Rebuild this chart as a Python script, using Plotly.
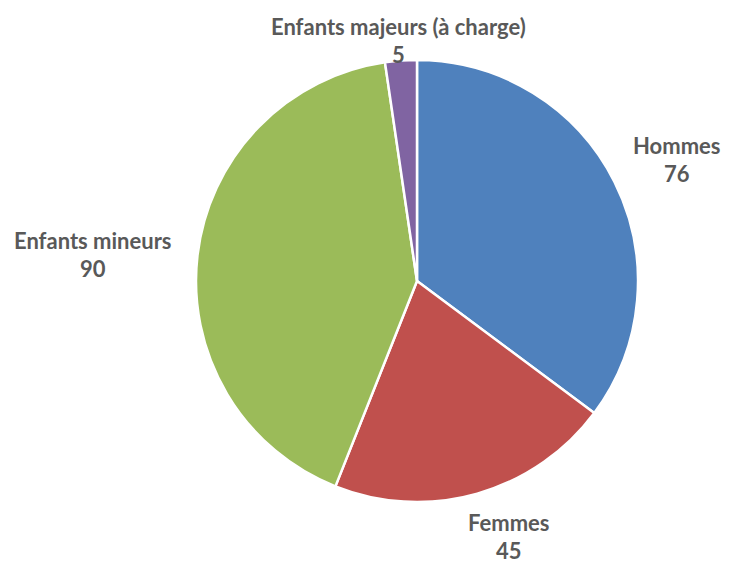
import math
import plotly.graph_objects as go

categories = ["Hommes", "Femmes", "Enfants mineurs", "Enfants majeurs (à charge)"]
values = [76, 45, 90, 5]
colors = ["#4F81BD", "#C0504D", "#9BBB59", "#8064A2"]
label_dist = [289, 271, 326, 239]   # px from pie centre to label centre (style)
label_nudge_x = [2, 18, 0, -1]      # small horizontal nudges (style)
label_nudge_down = [8, -5, 11, -2]  # small vertical nudges, px downward (style)

W, H = 729, 562
OFF = 8  # page body margin in the browser
cx, cy, R = 417 - OFF, 281 - OFF, 221
dom_x = [(cx - R) / W, (cx + R) / W]
dom_y = [(H - cy - R) / H, (H - cy + R) / H]

fig = go.Figure(go.Pie(
    labels=categories, values=values, sort=False, direction="clockwise", rotation=0,
    marker=dict(colors=colors, line=dict(color="white", width=2.5)),
    textinfo="none", hoverinfo="label+value", showlegend=False,
    domain=dict(x=dom_x, y=dom_y),
))

font = dict(family="Lato", size=22, color="#595959")
total = sum(values)
cum = 0
annotations = []
px = (dom_x[0] + dom_x[1]) / 2
py = (dom_y[0] + dom_y[1]) / 2
for cat, v, d, nx, nd in zip(categories, values, label_dist, label_nudge_x, label_nudge_down):
    mid = (cum + v / 2) / total * 2 * math.pi
    cum += v
    sx = d * math.sin(mid) + nx
    sy = d * math.cos(mid) - nd
    annotations.append(dict(x=px, y=py, xref="paper", yref="paper", text=f"<b>{cat}</b>",
                            showarrow=False, xshift=sx, yshift=sy + 14, font=font))
    annotations.append(dict(x=px, y=py, xref="paper", yref="paper", text=f"<b>{v}</b>",
                            showarrow=False, xshift=sx, yshift=sy - 14, font=font))

fig.update_layout(width=W, height=H, margin=dict(l=0, r=0, t=0, b=0),
                  paper_bgcolor="white", plot_bgcolor="white", annotations=annotations)
fig.write_html("out.html")
